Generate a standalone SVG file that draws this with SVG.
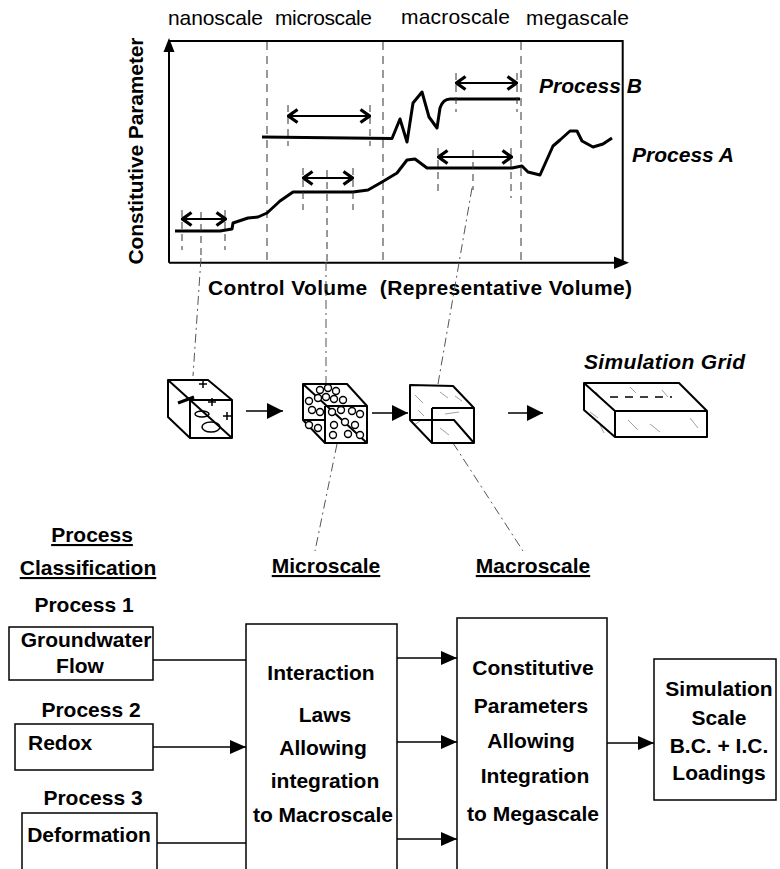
<svg xmlns="http://www.w3.org/2000/svg" width="780" height="869" viewBox="0 0 780 869">
  <style>
    text { font-family: "Liberation Sans", Arial, sans-serif; fill: #000; }
    .lbl { font-size: 21px; }
    .b { font-size: 21px; font-weight: bold; }
    .bi { font-size: 21px; font-weight: bold; font-style: italic; }
    .axis { stroke: #000; stroke-width: 2; fill: none; }
    .curve { stroke: #000; stroke-width: 3; fill: none; stroke-linejoin: round; }
    .scale { stroke: #333; stroke-width: 1; stroke-dasharray: 8 6; fill: none; }
    .tick { stroke: #333; stroke-width: 1; stroke-dasharray: 7 5; fill: none; }
    .proj { stroke: #555; stroke-width: 1; stroke-dasharray: 9 4 2 4; fill: none; }
    .span { stroke: #000; stroke-width: 1.8; fill: none; marker-start: url(#chev); marker-end: url(#chev); }
    .cube { stroke: #000; stroke-width: 2; fill: none; stroke-linejoin: round; }
    .hatch { stroke: #888; stroke-width: 0.8; fill: none; }
    .box { stroke: #000; stroke-width: 1.5; fill: #fff; }
    .link { stroke: #000; stroke-width: 1.5; fill: none; }
    .arrow { stroke: #000; stroke-width: 1.5; fill: none; marker-end: url(#tri); }
    .pore { stroke: #000; stroke-width: 1.4; fill: #fff; }
  </style>
  <defs>
    <!-- open chevron head used on both ends of the window spans -->
    <marker id="chev" viewBox="0 0 12 16" refX="11" refY="8" markerWidth="12" markerHeight="16" markerUnits="userSpaceOnUse" orient="auto-start-reverse">
      <polyline points="1.5,1.5 10.5,8 1.5,14.5" fill="none" stroke="#000" stroke-width="3.2" stroke-linejoin="miter"/>
    </marker>
    <marker id="tri" viewBox="0 0 16 14" refX="16" refY="7" markerWidth="16" markerHeight="14" markerUnits="userSpaceOnUse" orient="auto">
      <path d="M0,0 L16,7 L0,14 Z" fill="#000"/>
    </marker>
    <marker id="tri-small" viewBox="0 0 16 16" refX="16" refY="8" markerWidth="16" markerHeight="16" markerUnits="userSpaceOnUse" orient="auto">
      <path d="M0,0 L16,8 L0,16 Z" fill="#000"/>
    </marker>
  </defs>

  <!-- ===== Scale plot ===== -->
  <g id="plot">
    <text class="lbl" x="168" y="25" textLength="95">nanoscale</text>
    <text class="lbl" x="275" y="25" textLength="97">microscale</text>
    <text class="lbl" x="401" y="24" textLength="109">macroscale</text>
    <text class="lbl" x="526" y="25" textLength="103">megascale</text>

    <text class="b" transform="translate(143,151) rotate(-90)" text-anchor="middle" textLength="227">Constitutive Parameter</text>
    <text class="b" x="208" y="295" textLength="424" xml:space="preserve">Control Volume  (Representative Volume)</text>

    <!-- frame and axes -->
    <polyline class="axis" points="169,262.7 169,50"/>
    <path d="M169,38 L163.5,52 L174.5,52 Z" fill="#000"/>
    <polyline class="axis" points="169,41 622.7,41 622.7,262.7"/>
    <line class="axis" x1="169" y1="262.7" x2="614" y2="262.7"/>
    <path d="M629,262.7 L614,256.5 L614,269 Z" fill="#000"/>

    <!-- scale boundaries -->
    <line class="scale" x1="267" y1="42" x2="267" y2="262"/>
    <line class="scale" x1="383" y1="42" x2="383" y2="262"/>
    <line class="scale" x1="521" y1="42" x2="521" y2="260"/>

    <!-- process B -->
    <path class="curve" d="M262,137 L392,138.5 L400,119 L407,142 L413,103 L422,92 L429,117 L437,128 L440,108 Q443,99 450,99 L520,99"/>
    <!-- process A -->
    <path class="curve" d="M175,231 L220,231 L232,229 L233,223 L248,218 L258,217 L267,213 L280,201 L293,192 L353,192 L368,190 L382,182 L397,173 L407,160 L415,159 L427,168 L512,168 L522,166 L528,172 L540,175 L553,146 L560,140 L570,131 L577,131 L582,141 L593,147 L603,144 L612,138"/>
    <text class="bi" x="539" y="93" textLength="103">Process B</text>
    <text class="bi" x="632" y="162" textLength="102">Process A</text>

    <!-- averaging windows -->
    <g id="windows">
      <line class="tick" x1="182" y1="210" x2="182" y2="250"/>
      <line class="tick" x1="201" y1="212" x2="201" y2="258"/>
      <line class="tick" x1="225" y1="210" x2="225" y2="250"/>
      <line class="span" x1="182" y1="219" x2="226" y2="219"/>

      <line class="tick" x1="303" y1="168" x2="303" y2="210"/>
      <line class="tick" x1="327" y1="170" x2="327" y2="262"/>
      <line class="tick" x1="353" y1="168" x2="353" y2="210"/>
      <line class="span" x1="303" y1="178" x2="353" y2="178"/>

      <line class="tick" x1="288" y1="105" x2="288" y2="146"/>
      <line class="tick" x1="370" y1="105" x2="370" y2="146"/>
      <line class="span" x1="288" y1="116" x2="370" y2="116"/>

      <line class="tick" x1="438" y1="148" x2="438" y2="195"/>
      <line class="tick" x1="473" y1="150" x2="473" y2="190"/>
      <line class="tick" x1="511" y1="148" x2="511" y2="198"/>
      <line class="span" x1="438" y1="157" x2="512" y2="157"/>

      <line class="tick" x1="456" y1="73" x2="456" y2="112"/>
      <line class="tick" x1="517" y1="73" x2="517" y2="112"/>
      <line class="span" x1="456" y1="83" x2="517" y2="83"/>
    </g>
  </g>

  <!-- ===== Control volume sketches ===== -->
  <g id="projections">
    <line class="proj" x1="201" y1="258" x2="193" y2="376"/>
    <line class="proj" x1="326" y1="262" x2="326" y2="383"/>
    <line class="proj" x1="472" y1="188" x2="438" y2="384"/>
    <line class="proj" x1="337" y1="444" x2="315" y2="551"/>
    <line class="proj" x1="453" y1="443" x2="523" y2="551"/>
  </g>

  <g id="cube-nano">
    <path class="cube" d="M168,380 L208,380 L232,400 L232,438 L190,438 L168,417 Z M190,400 L232,400 M190,400 L190,438 M168,380 L232,438"/>
    <line x1="178" y1="403" x2="194" y2="397" stroke="#000" stroke-width="3"/>
    <path d="M199,384 h8 M203,380 v8 M208,402 h8 M212,398 v8 M223,416 h8 M227,412 v8" stroke="#000" stroke-width="1.5"/>
    <ellipse cx="202" cy="414" rx="7" ry="3" fill="none" stroke="#000" stroke-width="1.5"/>
    <ellipse cx="211" cy="427" rx="9" ry="5" fill="none" stroke="#000" stroke-width="1.5"/>
  </g>

  <line class="link" x1="246" y1="411" x2="283" y2="411" marker-end="url(#tri-small)"/>

  <g id="cube-micro">
    <path class="cube" d="M303,384 L347,384 L367,406 L367,443 L325,443 L303,420 Z M325,406 L367,406 M325,406 L325,443 M303,420 L325,420 M303,384 L367,443"/>
    <g>
      <circle class="pore" cx="320" cy="390" r="3.5"/><circle class="pore" cx="328" cy="388" r="3.5"/><circle class="pore" cx="336" cy="391" r="3.5"/>
      <circle class="pore" cx="318" cy="398" r="3.5"/><circle class="pore" cx="326" cy="397" r="3.5"/><circle class="pore" cx="334" cy="399" r="3.5"/><circle class="pore" cx="343" cy="400" r="3.5"/>
      <circle class="pore" cx="309" cy="401" r="3.5"/><circle class="pore" cx="312" cy="410" r="3.5"/><circle class="pore" cx="320" cy="412" r="3.5"/>
      <circle class="pore" cx="332" cy="412" r="3.5"/><circle class="pore" cx="341" cy="410" r="3.5"/><circle class="pore" cx="352" cy="411" r="3.5"/><circle class="pore" cx="360" cy="414" r="3.5"/>
      <circle class="pore" cx="309" cy="425" r="3.5"/><circle class="pore" cx="318" cy="428" r="3.5"/><circle class="pore" cx="334" cy="425" r="3.5"/>
      <circle class="pore" cx="345" cy="422" r="3.5"/><circle class="pore" cx="355" cy="425" r="3.5"/><circle class="pore" cx="333" cy="435" r="3.5"/>
      <circle class="pore" cx="348" cy="434" r="3.5"/><circle class="pore" cx="360" cy="435" r="3.5"/>
    </g>
  </g>

  <line class="link" x1="372" y1="413" x2="408" y2="413" marker-end="url(#tri-small)"/>

  <g id="cube-macro">
    <path class="hatch" d="M415,395 l8,8 M418,410 l6,6 M440,392 l8,6 M455,396 l7,5 M440,428 l9,7 M458,425 l8,8 M414,425 l6,-4 M445,414 l14,-2"/>
    <path class="cube" d="M410,385 L453,386 L474,408 L474,443 L432,443 L410,420 Z M432,408 L474,408 M432,408 L432,443"/>
    <path d="M410,420 L454,420 L474,443" stroke="#000" stroke-width="2" fill="none"/>
  </g>

  <line class="link" x1="508" y1="413" x2="543" y2="413" marker-end="url(#tri-small)"/>

  <g id="grid">
    <text class="bi" x="584" y="369" textLength="161">Simulation Grid</text>
    <path class="hatch" d="M596,392 l6,8 M630,387 l6,6 M662,390 l6,7 M590,412 l8,6 M628,420 l10,10 M650,424 l10,8 M690,418 l8,10 M600,425 l4,8"/>
    <path class="cube" d="M584,383 L679,383 L707,411 L707,437 L615,437 L584,410 Z M615,411 L707,411 M615,411 L615,437 M584,383 L615,411"/>
    <line x1="610" y1="397" x2="672" y2="397" stroke="#000" stroke-width="1.5" stroke-dasharray="8 7"/>
  </g>

  <!-- ===== Column headings ===== -->
  <g id="headings">
    <text class="b" x="92" y="542" text-anchor="middle" text-decoration="underline">Process</text>
    <text class="b" x="88" y="575" text-anchor="middle" text-decoration="underline">Classification</text>
    <text class="b" x="326" y="573" text-anchor="middle" text-decoration="underline">Microscale</text>
    <text class="b" x="533" y="573" text-anchor="middle" text-decoration="underline">Macroscale</text>
  </g>

  <!-- ===== Process boxes ===== -->
  <g id="process1">
    <text class="b" x="84" y="612" text-anchor="middle">Process 1</text>
    <rect class="box" x="9" y="627" width="144" height="53"/>
    <text class="b" x="86" y="647" text-anchor="middle">Groundwater</text>
    <text class="b" x="80" y="673" text-anchor="middle">Flow</text>
  </g>
  <g id="process2">
    <text class="b" x="91" y="717" text-anchor="middle">Process 2</text>
    <rect class="box" x="15" y="724" width="138" height="46"/>
    <text class="b" x="28" y="750">Redox</text>
  </g>
  <g id="process3">
    <text class="b" x="93" y="805" text-anchor="middle">Process 3</text>
    <rect class="box" x="22" y="813" width="135" height="60"/>
    <text class="b" x="89" y="842" text-anchor="middle">Deformation</text>
  </g>

  <g id="interaction">
    <rect class="box" x="246" y="624" width="151" height="250"/>
    <text class="b" text-anchor="middle" x="321" y="680">Interaction</text>
    <text class="b" text-anchor="middle" x="325" y="722">Laws</text>
    <text class="b" text-anchor="middle" x="323" y="755">Allowing</text>
    <text class="b" text-anchor="middle" x="325" y="788">integration</text>
    <text class="b" text-anchor="middle" x="323" y="822">to Macroscale</text>
  </g>

  <g id="constitutive">
    <rect class="box" x="457" y="618" width="150" height="256"/>
    <text class="b" text-anchor="middle" x="533" y="675">Constitutive</text>
    <text class="b" text-anchor="middle" x="531" y="713">Parameters</text>
    <text class="b" text-anchor="middle" x="531" y="748">Allowing</text>
    <text class="b" text-anchor="middle" x="535" y="783">Integration</text>
    <text class="b" text-anchor="middle" x="533" y="821">to Megascale</text>
  </g>

  <g id="simulation">
    <rect class="box" x="654" y="659" width="122" height="141"/>
    <text class="b" text-anchor="middle" x="719" y="696">Simulation</text>
    <text class="b" text-anchor="middle" x="719" y="725">Scale</text>
    <text class="b" text-anchor="middle" x="719" y="753">B.C. + I.C.</text>
    <text class="b" text-anchor="middle" x="719" y="780">Loadings</text>
  </g>

  <!-- ===== Connectors ===== -->
  <g id="connectors">
    <line class="link" x1="153" y1="660" x2="246" y2="660"/>
    <line class="arrow" x1="153" y1="747" x2="246" y2="747"/>
    <line class="link" x1="157" y1="843" x2="246" y2="843"/>
    <line class="arrow" x1="397" y1="658" x2="457" y2="658"/>
    <line class="arrow" x1="397" y1="742" x2="457" y2="742"/>
    <line class="arrow" x1="397" y1="839" x2="457" y2="839"/>
    <line class="arrow" x1="607" y1="743" x2="654" y2="743"/>
  </g>
</svg>
